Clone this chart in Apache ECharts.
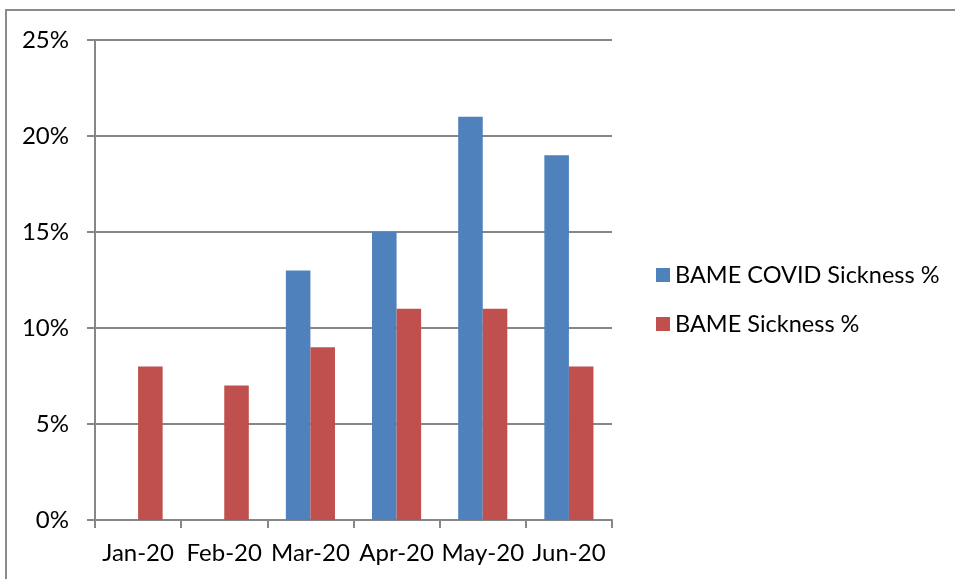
<!DOCTYPE html>
<html>
<head>
<meta charset="utf-8">
<script src="https://cdn.jsdelivr.net/npm/echarts@6/dist/echarts.min.js"></script>
<style>
  html, body { margin: 0; padding: 0; background: #fff; }
  #chart { width: 955px; height: 579px; }
</style>
</head>
<body>
<div id="chart"></div>
<script>
// Monthly sickness rates, in percent
const months = ['Jan-20', 'Feb-20', 'Mar-20', 'Apr-20', 'May-20', 'Jun-20'];
const covidSickness = [null, null, 13, 15, 21, 19];
const sickness = [8, 7, 9, 11, 11, 8];
const seriesNames = ['BAME COVID Sickness %', 'BAME Sickness %'];
const yTicks = { min: 0, max: 25, step: 5 };

const FONT = 'Lato';
const FONT_SIZE = 24;
const GRID_COLOR = '#878787';

const chart = echarts.init(document.getElementById('chart'), null, { renderer: 'canvas' });

chart.setOption({
  backgroundColor: '#ffffff',
  animation: false,
  textStyle: { fontFamily: FONT },
  graphic: [{
    type: 'rect',
    shape: { x: 6, y: 10, width: 1000, height: 700 },
    style: { fill: 'none', stroke: '#8c8c8c', lineWidth: 2 },
    silent: true
  }],
  grid: { left: 95, right: 343, top: 40, bottom: 59, containLabel: false },
  legend: {
    orient: 'vertical',
    left: 656,
    top: 263,
    padding: 0,
    itemWidth: 14,
    itemHeight: 14,
    itemGap: 25,
    icon: 'rect',
    textStyle: { fontFamily: FONT, fontSize: 23.5, color: '#000' },
    data: seriesNames
  },
  xAxis: {
    type: 'category',
    data: months,
    axisLine: { lineStyle: { color: GRID_COLOR, width: 2 } },
    axisTick: { show: true, length: 8, lineStyle: { color: GRID_COLOR, width: 2 } },
    axisLabel: { interval: 0, color: '#000', fontFamily: FONT, fontSize: FONT_SIZE, margin: 21 }
  },
  yAxis: {
    type: 'value',
    min: yTicks.min,
    max: yTicks.max,
    interval: yTicks.step,
    axisLine: { show: true, lineStyle: { color: GRID_COLOR, width: 2 } },
    axisTick: { show: true, length: 8, lineStyle: { color: GRID_COLOR, width: 2 } },
    splitLine: { show: true, lineStyle: { color: GRID_COLOR, width: 2 } },
    axisLabel: {
      color: '#000', fontFamily: FONT, fontSize: FONT_SIZE, margin: 26,
      formatter: v => v + '%'
    }
  },
  series: [
    {
      name: seriesNames[0],
      type: 'bar',
      data: covidSickness,
      barGap: '0%',
      barCategoryGap: '43%',
      itemStyle: { color: '#4F81BD' }
    },
    {
      name: seriesNames[1],
      type: 'bar',
      data: sickness,
      barGap: '0%',
      barCategoryGap: '43%',
      itemStyle: { color: '#C0504D' }
    }
  ]
});
</script>
</body>
</html>
